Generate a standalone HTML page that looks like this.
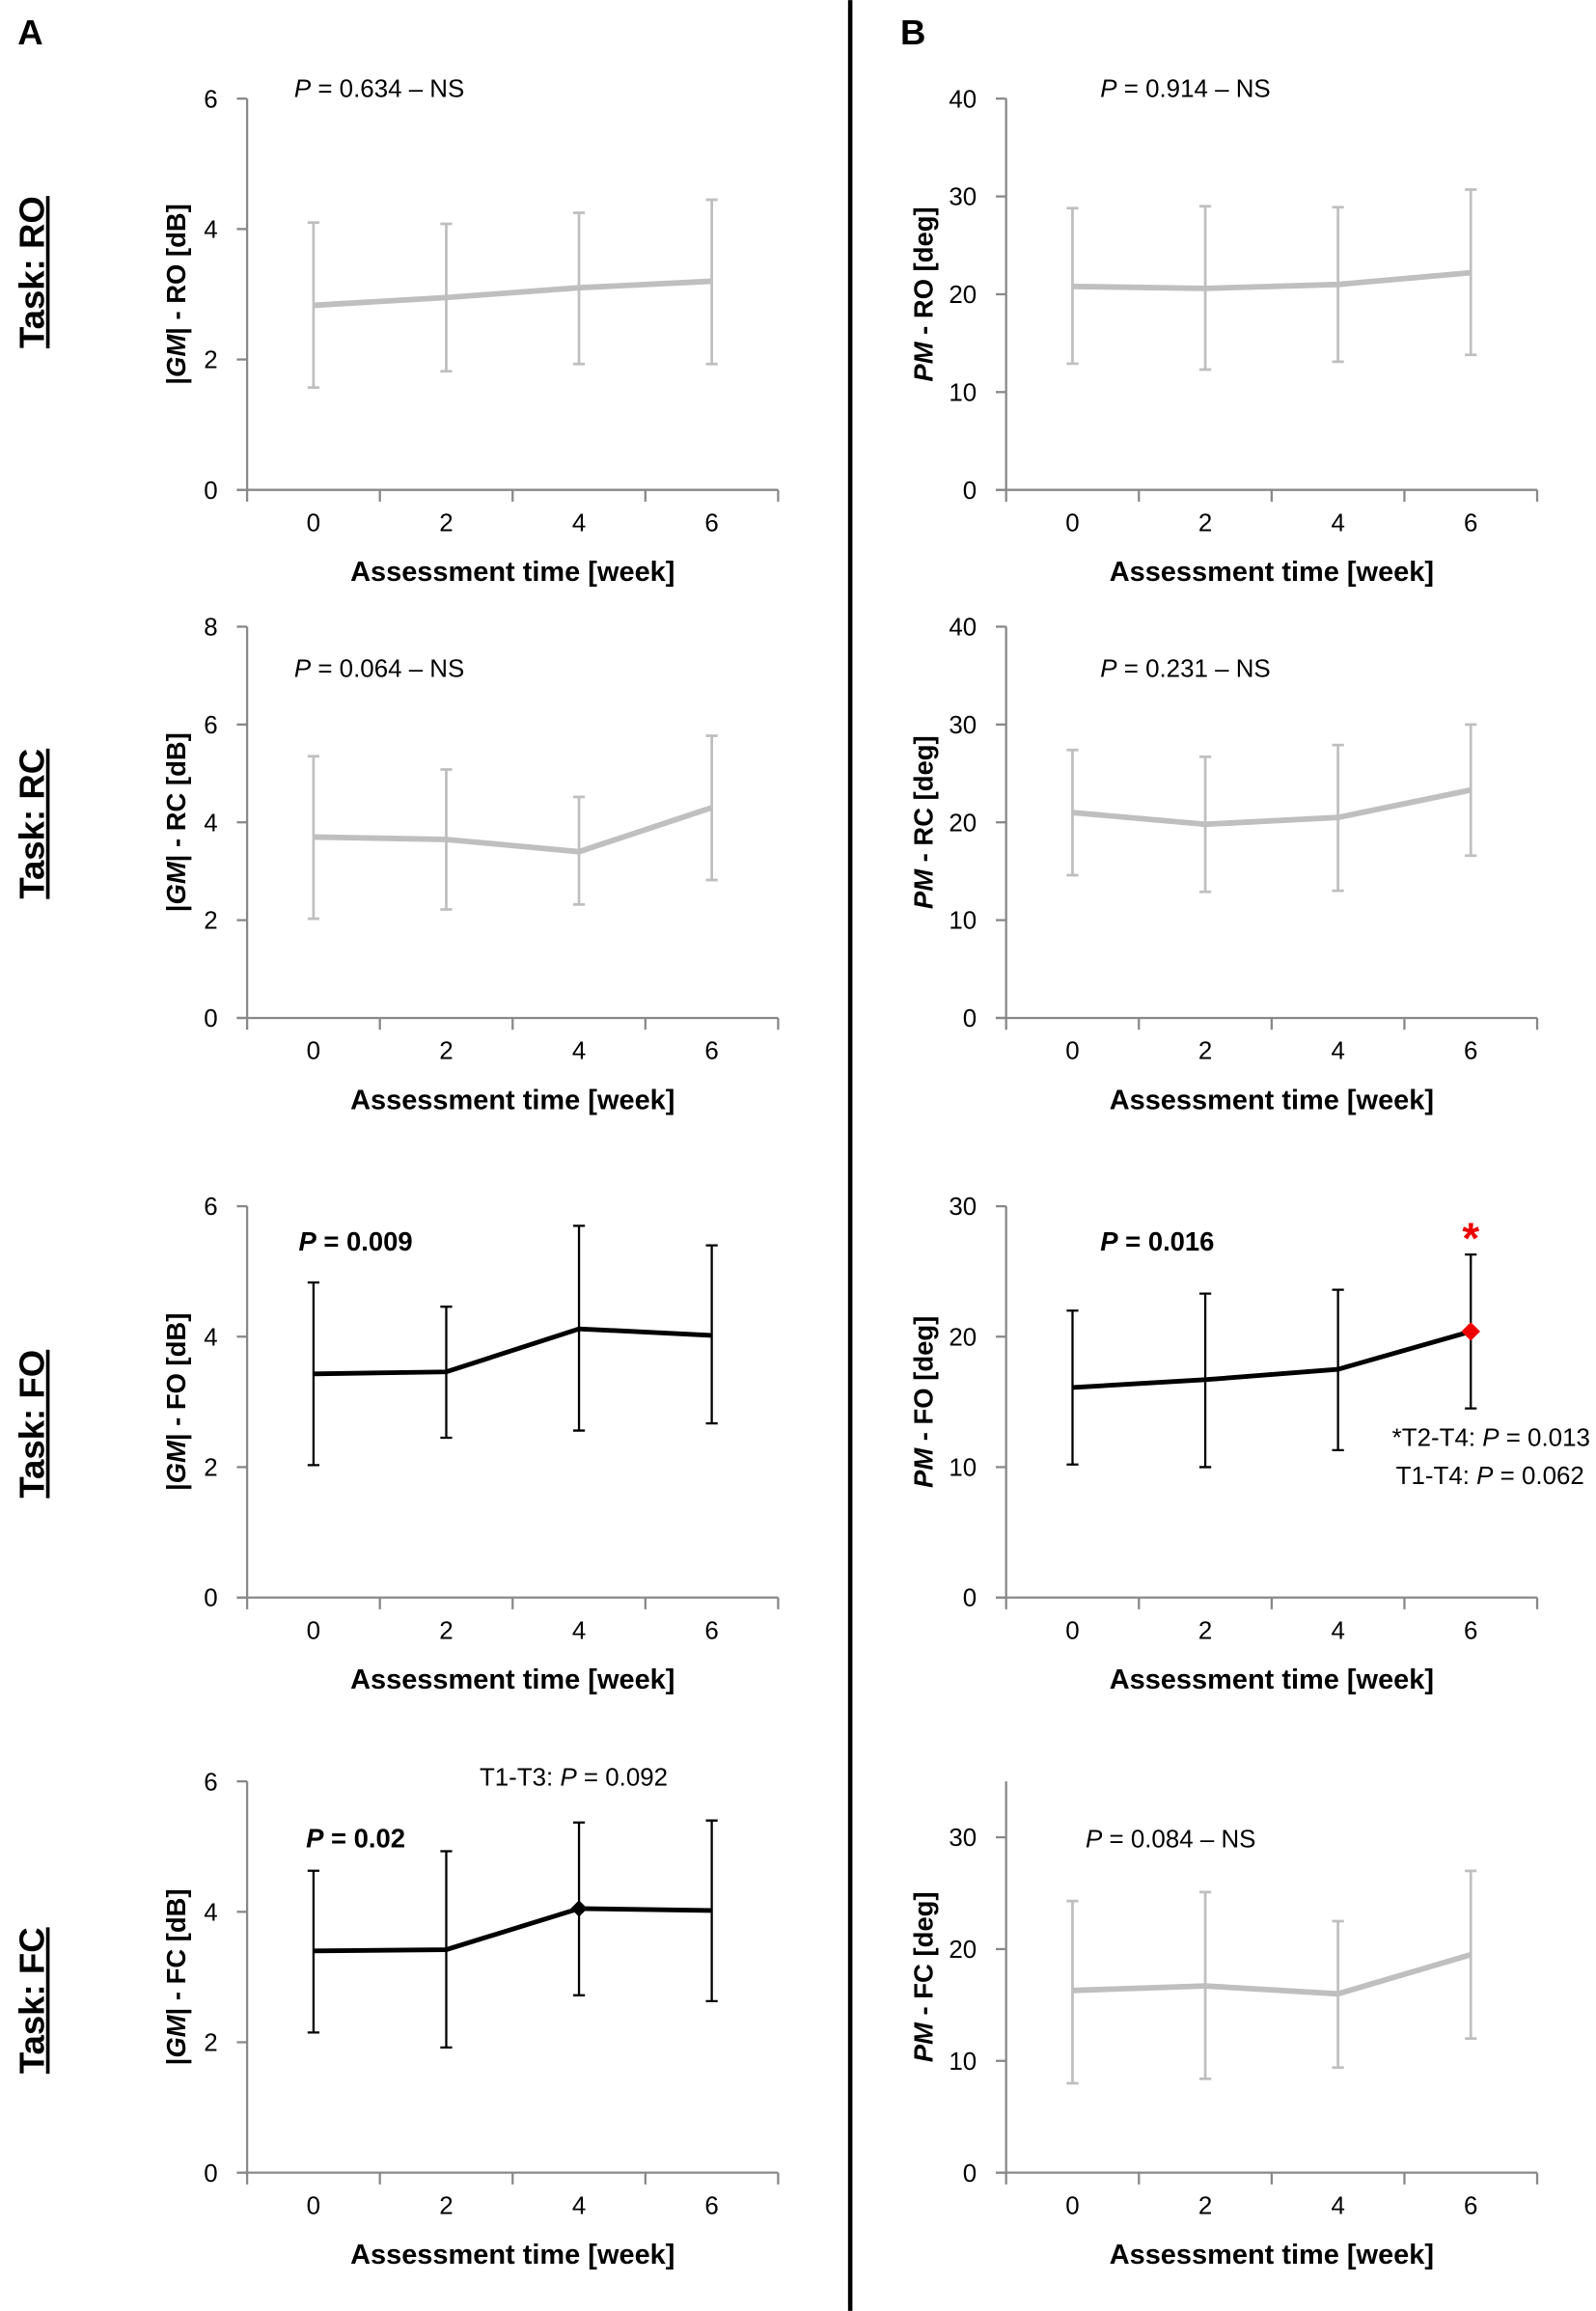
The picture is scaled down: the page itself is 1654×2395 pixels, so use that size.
<!DOCTYPE html>
<html><head><meta charset="utf-8"><style>
html,body{margin:0;padding:0;background:#fff}
svg{display:block;font-family:"Liberation Sans",sans-serif}
</style></head><body>
<svg id="fig" width="1654" height="2395" viewBox="0 0 1085 1571" xmlns="http://www.w3.org/2000/svg">
<line x1="578" y1="0" x2="578" y2="1571" stroke="#000" stroke-width="3"/>
<text x="12" y="30" font-size="24" font-weight="bold">A</text>
<text x="612" y="30" font-size="24" font-weight="bold">B</text>
</svg>
<script>
const weeks = [0, 2, 4, 6];
const tasks = ["RO", "RC", "FO", "FC"];
const gmMean = [[2.83,2.95,3.1,3.2],[3.7,3.65,3.4,4.3],[3.43,3.46,4.12,4.02],[3.4,3.42,4.05,4.02]];
const gmUp = [[4.1,4.08,4.25,4.45],[5.35,5.08,4.52,5.77],[4.83,4.46,5.7,5.4],[4.63,4.93,5.37,5.4]];
const gmLow = [[1.57,1.82,1.93,1.93],[2.03,2.22,2.32,2.82],[2.03,2.45,2.56,2.67],[2.15,1.92,2.72,2.63]];
const pmMean = [[20.8,20.6,21.0,22.2],[21.0,19.8,20.5,23.3],[16.1,16.7,17.5,20.4],[16.3,16.7,16.0,19.5]];
const pmUp = [[28.8,29.0,28.9,30.7],[27.4,26.7,27.9,30.0],[22.0,23.3,23.6,26.3],[24.3,25.1,22.5,27.0]];
const pmLow = [[12.9,12.3,13.1,13.8],[14.6,12.9,13.0,16.6],[10.2,10.0,11.3,14.5],[8.0,8.4,9.4,12.0]];
const gmMax = [6, 8, 6, 6];
const gmStep = [2, 2, 2, 2];
const pmMax = [40, 40, 30, 35];
const pmStep = [10, 10, 10, 10];
const pText = ["0.634","0.064","0.009","0.02","0.914","0.231","0.016","0.084"];

const NS = "http://www.w3.org/2000/svg";
const svg = document.getElementById("fig");
function mk(tag, attrs, parent) {
  const e = document.createElementNS(NS, tag);
  for (const k in attrs) e.setAttribute(k, attrs[k]);
  (parent || svg).appendChild(e);
  return e;
}
const rowTop = [67, 426, 820, 1211];
const taskY = [185, 560, 968, 1360];
const pPosA = [[200,66],[200,460],[203,850],[208,1256]];
const pPosB = [[748,66],[748,460],[748,850],[738,1256]];
const H = 266;

function panel(col, r, mean, up, low, ymax, ystep, label, sig) {
  const x0 = col === 0 ? 168 : 684;
  const W = 361;
  const top = rowTop[r], bot = top + H;
  const g = mk("g", {});
  
  
  const xs = w => x0 + (w + 1) / 8 * W;
  const ys = v => bot - v / ymax * H;
  const ya = mk("line", {x1: x0, y1: top, x2: x0, y2: bot, stroke: "#888", "stroke-width": 1.5}, g);
  
  
  const xa = mk("line", {x1: x0 - 7, y1: bot, x2: x0 + W, y2: bot, stroke: "#888", "stroke-width": 1.5}, g);
  
  
  for (let i = 0; i <= 4; i++) {
    mk("line", {x1: x0 + i * W / 4, y1: bot, x2: x0 + i * W / 4, y2: bot + 8, stroke: "#888", "stroke-width": 1.5}, g);
  }
  for (let v = 0; v <= ymax + 0.001; v += ystep) {
    mk("line", {x1: x0 - 7, y1: ys(v), x2: x0, y2: ys(v), stroke: "#888", "stroke-width": 1.5}, g);
    const t = mk("text", {x: x0 - 20, y: ys(v) + 6, "font-size": 17, "text-anchor": "end"}, g);
    
    
    t.textContent = v;
  }
  weeks.forEach(w => {
    const t = mk("text", {x: xs(w), y: bot + 28, "font-size": 17, "text-anchor": "middle"}, g);
    
    
    t.textContent = w;
  });
  const xt = mk("text", {x: x0 + W / 2, y: bot + 62, "font-size": 19, "font-weight": "bold", "text-anchor": "middle"}, g);
  
  
  xt.textContent = "Assessment time [week]";
  const yt = mk("text", {transform: `translate(${x0 - (col === 0 ? 42 : 50)},${top + H / 2}) rotate(-90)`, "font-size": 18, "font-weight": "bold", "text-anchor": "middle"}, g);
  
  
  if (col === 0) {
    yt.innerHTML = `|<tspan font-style="italic">GM</tspan>| - ${tasks[r]} [dB]`;
  } else {
    yt.innerHTML = `<tspan font-style="italic">PM</tspan> - ${tasks[r]} [deg]`;
  }
  const color = sig ? "#000" : "#bfbfbf";
  const ew = sig ? 1.5 : 1.8;
  weeks.forEach((w, i) => {
    const eb = mk("path", {d: `M${xs(w)},${ys(up[i])}V${ys(low[i])}M${xs(w) - 4},${ys(up[i])}h8M${xs(w) - 4},${ys(low[i])}h8`, stroke: color, "stroke-width": ew, fill: "none"}, g);
    
    
  });
  const ln = mk("polyline", {points: weeks.map((w, i) => xs(w) + "," + ys(mean[i])).join(" "), stroke: color, "stroke-width": sig ? 3.2 : 3.8, fill: "none"}, g);
  
  
  const pp = col === 0 ? pPosA[r] : pPosB[r];
  const pt = mk("text", {x: pp[0], y: pp[1], "font-size": sig ? 18 : 17, "font-weight": sig ? "bold" : "normal"}, g);
  
  
  pt.innerHTML = `<tspan font-style="italic">P</tspan> = ${label}` + (sig ? "" : " – NS");
  return {xs, ys, g};
}

for (let r = 0; r < 4; r++) {
  const sigA = r >= 2, sigB = r === 2;
  const a = panel(0, r, gmMean[r], gmUp[r], gmLow[r], gmMax[r], gmStep[r], pText[r], sigA);
  const b = panel(1, r, pmMean[r], pmUp[r], pmLow[r], pmMax[r], pmStep[r], pText[4 + r], sigB);
  const tl = mk("text", {transform: `translate(30,${taskY[r]}) rotate(-90)`, "font-size": 24, "font-weight": "bold", "text-anchor": "middle", "text-decoration": "underline"});
  
  
  tl.textContent = "Task: " + tasks[r];
  if (r === 2) {
    const d = mk("rect", {x: b.xs(6) - 4.5, y: b.ys(pmMean[2][3]) - 4.5, width: 9, height: 9, fill: "#e00", transform: `rotate(45 ${b.xs(6)} ${b.ys(pmMean[2][3])})`}, b.g);
    
    
    const s = mk("text", {x: b.xs(6), y: 852, "font-size": 30, "font-weight": "bold", fill: "#e00", "text-anchor": "middle"}, b.g);
    
    
    s.textContent = "*";
    const n1 = mk("text", {x: 1081, y: 983, "font-size": 17, "text-anchor": "end"}, b.g);
    
    
    n1.innerHTML = '*T2-T4: <tspan font-style="italic">P</tspan> = 0.013';
    const n2 = mk("text", {x: 1077, y: 1009, "font-size": 17, "text-anchor": "end"}, b.g);
    
    
    n2.innerHTML = 'T1-T4: <tspan font-style="italic">P</tspan> = 0.062';
  }
  if (r === 3) {
    const d = mk("rect", {x: a.xs(4) - 4, y: a.ys(gmMean[3][2]) - 4, width: 8, height: 8, fill: "#000", transform: `rotate(45 ${a.xs(4)} ${a.ys(gmMean[3][2])})`}, a.g);
    
    
    const n = mk("text", {x: 326, y: 1214, "font-size": 17}, a.g);
    
    
    n.innerHTML = 'T1-T3: <tspan font-style="italic">P</tspan> = 0.092';
  }
}
</script>
</body></html>
